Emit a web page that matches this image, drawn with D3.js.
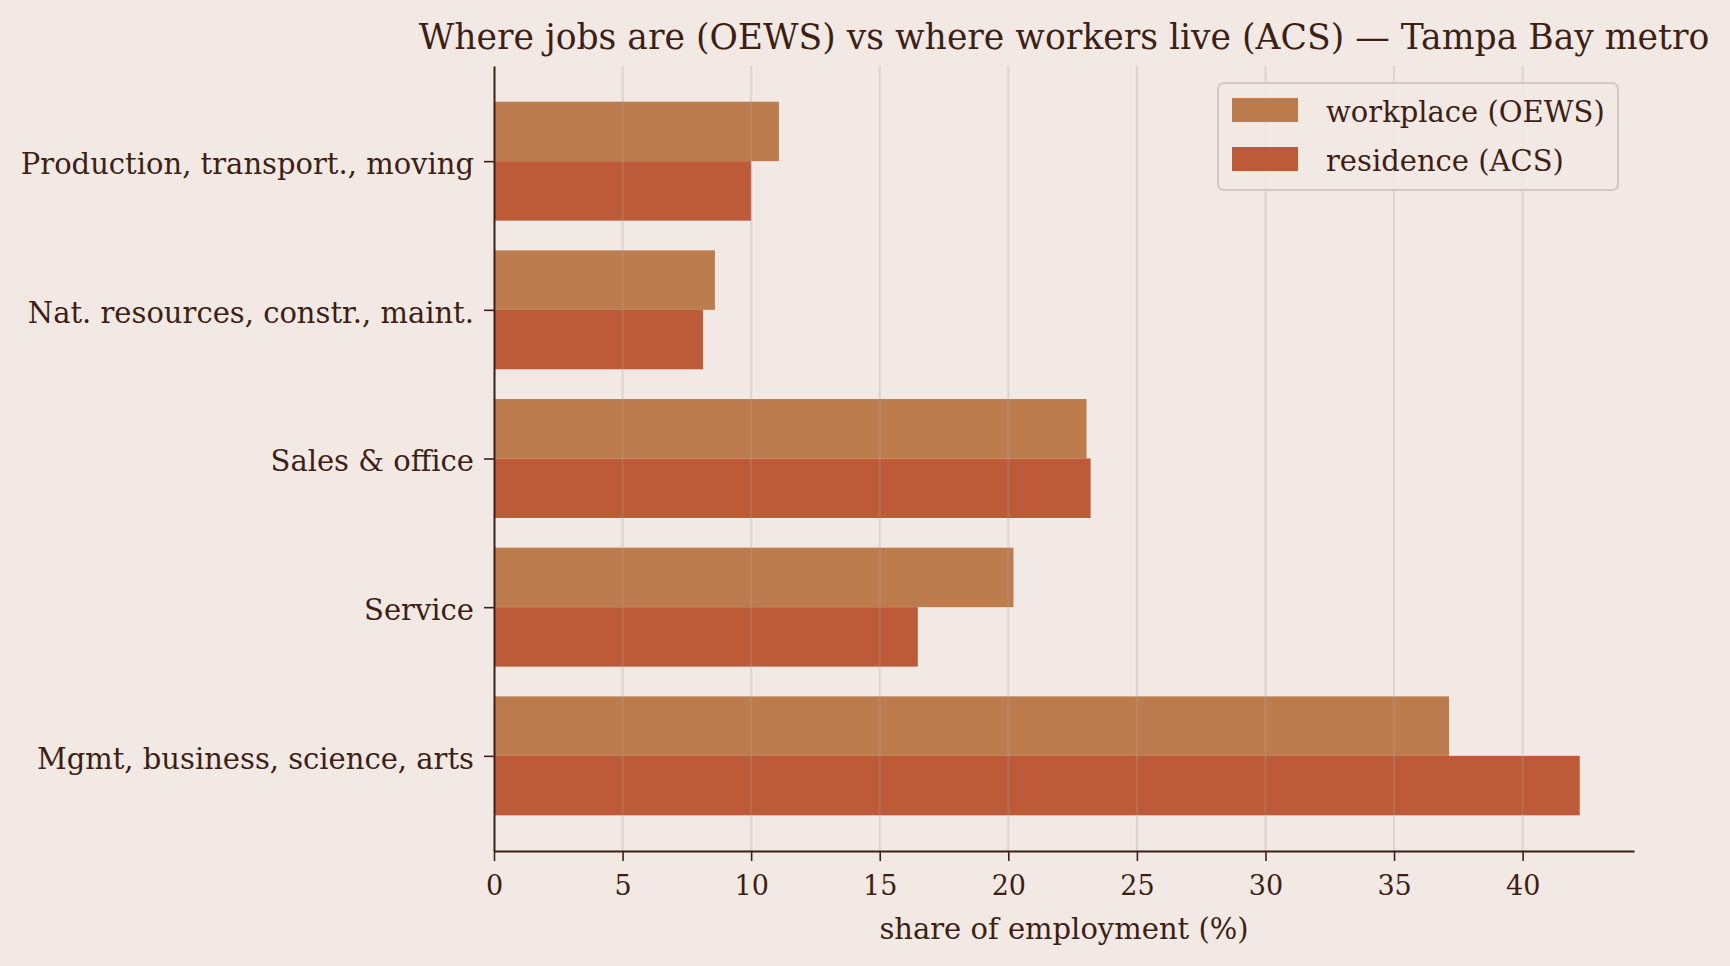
<!DOCTYPE html>
<html><head><meta charset="utf-8">
<script src="https://cdn.jsdelivr.net/npm/d3@7"></script>
<style>
html,body{margin:0;padding:0;background:#F2E9E4;}
svg{display:block;font-family:"DejaVu Serif",serif;}
</style></head>
<body><svg id="c" width="1730" height="966"></svg>
<script>
const categories = ["Mgmt, business, science, arts","Service","Sales & office","Nat. resources, constr., maint.","Production, transport., moving"];
const workplace = [37.14, 20.2, 23.04, 8.59, 11.08];
const residence = [42.22, 16.48, 23.2, 8.13, 10.0];
const xTicks = [0,5,10,15,20,25,30,35,40];
const seriesNames = ["workplace (OEWS)","residence (ACS)"];
const colors = ["#BD7C4D","#BD5A38"];
const ink = "#3D1F16";

const svg = d3.select("#c");
const L = 494, R = 1634, T = 66, B = 851;
const x = d3.scaleLinear().domain([0, d3.max(residence.concat(workplace))*1.05]).range([L, R]);
const y = d3.scaleLinear().domain([-0.64, 4.64]).range([B, T]);
const barH = y(0) - y(0.4);

// bars
const g = svg.append("g");
categories.forEach((c,i)=>{
  g.append("rect").attr("x", x(0)).attr("y", y(i+0.4)).attr("width", x(workplace[i])-x(0)).attr("height", barH).attr("fill", colors[0]);
  g.append("rect").attr("x", x(0)).attr("y", y(i)).attr("width", x(residence[i])-x(0)).attr("height", barH).attr("fill", colors[1]);
});

// grid on top
svg.append("g").selectAll("line").data(xTicks.slice(1)).join("line")
  .attr("x1", d=>x(d)).attr("x2", d=>x(d)).attr("y1", T).attr("y2", B)
  .attr("stroke", "#a9a3a8").attr("stroke-opacity", 0.3).attr("stroke-width", 2);

// x axis
const xa = svg.append("g").attr("transform", `translate(0,${B})`)
  .call(d3.axisBottom(x).tickValues(xTicks).tickSize(10).tickPadding(15).tickSizeOuter(0));
xa.select(".domain").attr("stroke", ink).attr("stroke-width", 2);
xa.selectAll(".tick line").attr("stroke", ink).attr("stroke-width", 1.6);
xa.selectAll("text").attr("fill", ink).attr("font-size", 27).attr("font-family","DejaVu Serif");

// y axis
const ya = svg.append("g").attr("transform", `translate(${L},0)`)
  .call(d3.axisLeft(y).tickValues(d3.range(categories.length)).tickFormat(i=>categories[i]).tickSize(10).tickPadding(10).tickSizeOuter(0));
ya.select(".domain").attr("stroke", ink).attr("stroke-width", 2);
ya.selectAll(".tick line").attr("stroke", ink).attr("stroke-width", 1.6);
ya.selectAll("text").attr("fill", ink).attr("font-size", 29).attr("font-family","DejaVu Serif").attr("dy","0.42em");

// axis label
svg.append("text").attr("x", (L+R)/2).attr("y", 939).attr("text-anchor","middle")
  .attr("fill", ink).attr("font-size", 29).text("share of employment (%)");

// title
svg.append("text").attr("x", (L+R)/2).attr("y", 49).attr("text-anchor","middle")
  .attr("fill", ink).attr("font-size", 34.6).text("Where jobs are (OEWS) vs where workers live (ACS) — Tampa Bay metro");

// legend
const lg = svg.append("g");
lg.append("rect").attr("x",1218).attr("y",83).attr("width",400).attr("height",107).attr("rx",6)
  .attr("fill","#F2E9E4").attr("fill-opacity",0.8).attr("stroke","#cfc9c8").attr("stroke-width",2);
seriesNames.forEach((s,i)=>{
  lg.append("rect").attr("x",1232).attr("y",98+i*49).attr("width",66).attr("height",24).attr("fill",colors[i]);
  lg.append("text").attr("x",1326).attr("y",110+i*49).attr("dy","0.42em").attr("fill",ink).attr("font-size",29).text(s);
});
</script></body></html>
